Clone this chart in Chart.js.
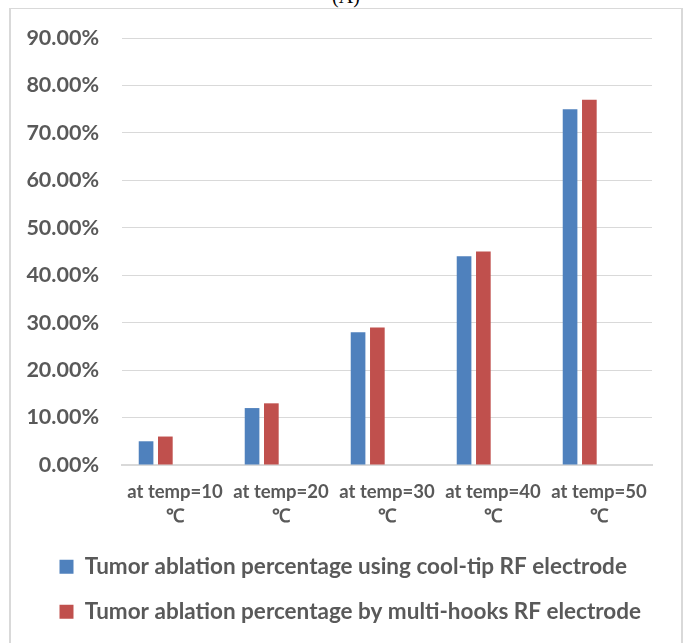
<!DOCTYPE html>
<html>
<head>
<meta charset="utf-8">
<script src="https://cdn.jsdelivr.net/npm/chart.js@4/dist/chart.umd.min.js"></script>
<style>
  html, body { margin: 0; padding: 0; background: #fff; width: 684px; height: 643px; overflow: hidden; }
  #caption {
    position: absolute; left: 0; width: 692px; top: -15px; text-align: center;
    font-family: "Liberation Serif", "DejaVu Serif", serif; font-size: 20px; color: #000;
  }
  #frame {
    position: absolute; left: 9px; top: 8px; width: 670px; height: 650px;
    border-top: 1px solid #d9d9d9; border-left: 2px solid #d9d9d9; border-right: 2px solid #d9d9d9;
  }
  #wrap { position: absolute; left: 11px; top: 9px; width: 670px; height: 634px; }
</style>
</head>
<body>
<div id="caption">(A)</div>
<div id="frame"></div>
<div id="wrap"><canvas id="chart" width="670" height="634"></canvas></div>
<script>
// Temperature groups (two-line tick labels)
const categories = [
  ['at temp=10', '℃'],
  ['at temp=20', '℃'],
  ['at temp=30', '℃'],
  ['at temp=40', '℃'],
  ['at temp=50', '℃']
];

// Ablation percentages per temperature
const coolTipValues = [5, 12, 28, 44, 75];
const multiHooksValues = [6, 13, 29, 45, 77];
// Two unused series slots in the workbook (no data)
const emptySeriesA = [null, null, null, null, null];
const emptySeriesB = [null, null, null, null, null];

const seriesNames = [
  'Tumor ablation percentage using cool-tip RF electrode',
  'Tumor ablation percentage by multi-hooks RF electrode'
];

// Y axis: 0% .. 90% every 10%
const yMin = 0, yMax = 90, yStep = 10;

const gray = '#595959';
const gridGray = '#d9d9d9';
const fontFamily = 'Lato, "Open Sans", sans-serif';

// Legend rows start further in than the y-axis labels
const legendIndent = {
  id: 'legendIndent',
  afterLayout(chart) {
    const lg = chart.legend;
    if (!lg) return;
    const dx = 16;
    lg.left += dx;
    lg.right += dx;
  }
};

new Chart(document.getElementById('chart'), {
  type: 'bar',
  data: {
    labels: categories,
    datasets: [
      { label: seriesNames[0], data: coolTipValues, backgroundColor: '#4f81bd' },
      { label: seriesNames[1], data: multiHooksValues, backgroundColor: '#c0504d' },
      { label: 'unused1', data: emptySeriesA, backgroundColor: '#9bbb59' },
      { label: 'unused2', data: emptySeriesB, backgroundColor: '#8064a2' }
    ]
  },
  plugins: [legendIndent],
  options: {
    responsive: false,
    animation: false,
    datasets: { bar: { categoryPercentage: 0.728, barPercentage: 0.76 } },
    layout: { padding: { left: 10, right: 29, top: 29, bottom: 10 } },
    plugins: {
      tooltip: { enabled: false },
      legend: {
        position: 'bottom',
        align: 'start',
        labels: {
          filter: (item) => item.datasetIndex < 2,
          boxWidth: 14,
          boxHeight: 14,
          padding: 22.5,
          color: gray,
          font: { family: fontFamily, size: 22.5, weight: 'bold' }
        }
      }
    },
    scales: {
      x: {
        grid: { display: false, drawTicks: false },
        border: { display: true, color: gridGray, width: 2 },
        ticks: {
          color: gray,
          padding: 15,
          maxRotation: 0,
          autoSkip: false,
          font: { family: fontFamily, size: 18.5, weight: 'bold', lineHeight: 1.3 }
        },
        afterFit: (scale) => { scale.height = 68; }
      },
      y: {
        min: yMin,
        max: yMax,
        grid: { color: gridGray, lineWidth: 1, drawTicks: true, tickLength: 21, tickColor: 'rgba(0,0,0,0)' },
        border: { display: false },
        ticks: {
          stepSize: yStep,
          color: gray,
          padding: 2,
          font: { family: fontFamily, size: 21.5, weight: 'bold' },
          callback: (v) => v.toFixed(2) + '%'
        },
        afterFit: (scale) => { scale.width = 101; }
      }
    }
  }
});
</script>
</body>
</html>
